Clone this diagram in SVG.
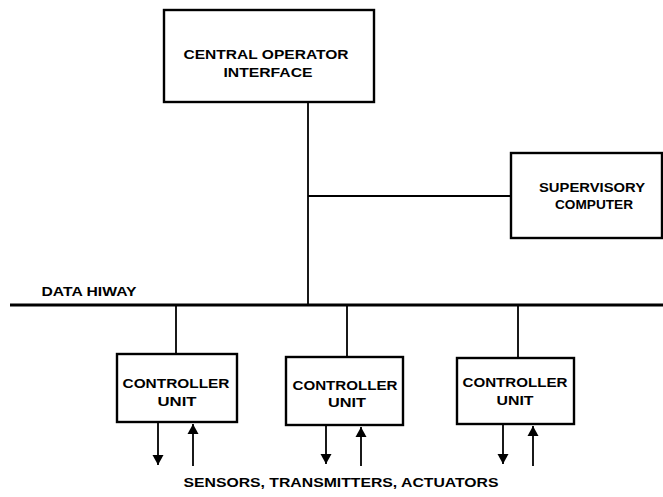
<svg xmlns="http://www.w3.org/2000/svg" width="663" height="497" viewBox="0 0 663 497">
<style>
.box{fill:#fff;stroke:#000;stroke-width:2.4}
.ln{stroke:#000;stroke-width:1.8;fill:none}
.hw{stroke:#000;stroke-width:3.2;fill:none}
text{font-family:"Liberation Sans",Arial,sans-serif;font-weight:bold;fill:#000;text-anchor:middle}
.t13{font-size:13.5px}
.t12{font-size:12.5px}
</style>
<defs>
<marker id="ah" markerWidth="12" markerHeight="12" refX="10" refY="6" orient="auto" markerUnits="userSpaceOnUse">
<path d="M0,0.5 L10,6 L0,11.5 Z" fill="#000"/>
</marker>
</defs>
<g id="connectors">
<line class="hw" x1="10" y1="305" x2="663" y2="305"/>
<line class="ln" x1="308" y1="102" x2="308" y2="305"/>
<line class="ln" x1="308" y1="196" x2="511" y2="196"/>
<line class="ln" x1="176" y1="305" x2="176" y2="354"/>
<line class="ln" x1="347" y1="305" x2="347" y2="357"/>
<line class="ln" x1="518" y1="305" x2="518" y2="358"/>
<line class="ln" x1="158" y1="422" x2="158" y2="465" marker-end="url(#ah)"/>
<line class="ln" x1="193" y1="466" x2="193" y2="424" marker-end="url(#ah)"/>
<line class="ln" x1="326" y1="425" x2="326" y2="464" marker-end="url(#ah)"/>
<line class="ln" x1="361" y1="466" x2="361" y2="427" marker-end="url(#ah)"/>
<line class="ln" x1="503" y1="424" x2="503" y2="464" marker-end="url(#ah)"/>
<line class="ln" x1="533" y1="466" x2="533" y2="426" marker-end="url(#ah)"/>
</g>
<g id="central">
<rect class="box" x="164" y="10" width="210" height="92"/>
<text class="t13" x="266" y="59" textLength="165" lengthAdjust="spacingAndGlyphs">CENTRAL OPERATOR</text>
<text class="t13" x="268" y="77" textLength="89" lengthAdjust="spacingAndGlyphs">INTERFACE</text>
</g>
<g id="supervisory">
<rect class="box" x="511" y="153" width="151" height="85"/>
<text class="t13" x="592" y="192" textLength="106" lengthAdjust="spacingAndGlyphs">SUPERVISORY</text>
<text class="t13" x="594" y="209" textLength="78" lengthAdjust="spacingAndGlyphs">COMPUTER</text>
</g>
<g id="hiway-label">
<text class="t12" x="89" y="296" textLength="95" lengthAdjust="spacingAndGlyphs">DATA HIWAY</text>
</g>
<g id="controller1">
<rect class="box" x="117" y="354" width="120" height="68"/>
<text class="t13" x="176" y="388" textLength="107" lengthAdjust="spacingAndGlyphs">CONTROLLER</text>
<text class="t13" x="177" y="406" textLength="39" lengthAdjust="spacingAndGlyphs">UNIT</text>
</g>
<g id="controller2">
<rect class="box" x="286" y="357" width="117" height="68"/>
<text class="t13" x="345" y="390" textLength="105" lengthAdjust="spacingAndGlyphs">CONTROLLER</text>
<text class="t13" x="347" y="407" textLength="38" lengthAdjust="spacingAndGlyphs">UNIT</text>
</g>
<g id="controller3">
<rect class="box" x="457" y="358" width="117" height="66"/>
<text class="t13" x="515" y="387" textLength="105" lengthAdjust="spacingAndGlyphs">CONTROLLER</text>
<text class="t13" x="515" y="405" textLength="37" lengthAdjust="spacingAndGlyphs">UNIT</text>
</g>
<g id="field-label">
<text class="t12" x="341" y="487" textLength="315" lengthAdjust="spacingAndGlyphs">SENSORS, TRANSMITTERS, ACTUATORS</text>
</g>
</svg>
